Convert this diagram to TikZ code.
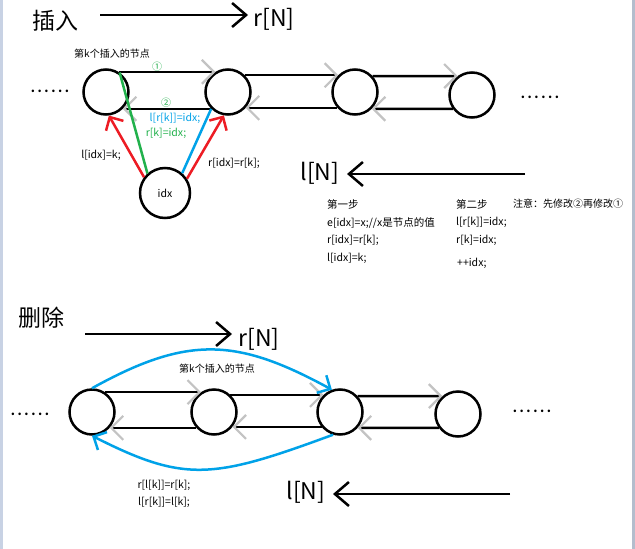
\documentclass[tikz,border=0pt]{standalone}
\usepackage{fontspec}
\setmainfont{Noto Sans CJK SC}
\usetikzlibrary{arrows.meta,calc}
\definecolor{pblue}{RGB}{0,162,232}
\definecolor{pgreen}{RGB}{34,177,76}
\definecolor{pgrey}{RGB}{195,195,195}
\definecolor{pred}{RGB}{237,28,36}
\definecolor{pframe}{RGB}{200,210,228}
\newcommand\sixdots{.\kern2.6pt.\kern2.6pt.\kern2.6pt.\kern2.6pt.\kern2.6pt.}
\tikzset{
  nd/.style={circle, draw, line width=2.5pt, minimum size=45pt, inner sep=0pt},
  link/.style={line width=2.5pt},
  gend/.style={link, -{Straight Barb[color=pgrey,length=12pt,width=24pt,line width=2.2pt]}},
  gstart/.style={link, {Straight Barb[color=pgrey,length=12pt,width=24pt,line width=2.2pt]}-},
  bigarrow/.style={line width=2.5pt, -{Straight Barb[length=14pt,width=24pt]}},
  redarrow/.style={line width=2.5pt, pred, -{Straight Barb[length=10pt,width=20pt]}},
  bluearrow/.style={line width=2.5pt, pblue, -{Straight Barb[length=10pt,width=20pt]}},
  big/.style={inner sep=0pt, font=\fontsize{23}{23}\selectfont},
  small/.style={inner sep=0pt, font=\fontsize{10}{10}\selectfont},
  code/.style={inner sep=0pt, font=\fontsize{10.5}{10.5}\selectfont},
  dots/.style={inner sep=0pt, anchor=base, font=\fontsize{12}{12}\selectfont\bfseries},
}
\begin{document}
\begin{tikzpicture}[x=1pt,y=-1pt]
\useasboundingbox (0,0) rectangle (635,549);
\fill[white] (0,0) rectangle (635,549);
\fill[pframe] (0,0) rectangle (3,549);
\fill[pframe!90!black] (632,0) rectangle (635,549);

% ---------- insertion ----------
\node[big] (tins) at (55,21) {插入};
\coordinate (ra0) at (100,15);
\coordinate (ra1) at (248,15);
\draw[bigarrow] (ra0) -- (ra1);
\node[big] (rN1) at (274,19) {r[N]};

\node[small] (lab1) at (112,54) {第k个插入的节点};
\node[dots] (dl1) at (50,92) {\sixdots};
\node[dots] (dr1) at (540,98) {\sixdots};

\node[nd] (c1) at (106,92) {};
\node[nd] (c2) at (228,92) {};
\node[nd] (c3) at (355,92) {};
\node[nd] (c4) at (472,95) {};
\node[nd, minimum size=50pt] (idx) at (165,193) {\fontsize{10.5}{10.5}\selectfont idx};

\draw[gend] (c1.58) -- (c2.122);
\draw[gstart] (c1.-45) -- (c2.-135);
\draw[gend] (c2.45) -- (c3.135);
\draw[gstart] (c2.-42) -- (c3.-138);
\draw[gend] (c3.42) -- (c4.127);
\draw[gstart] (c3.-45) -- (c4.-144);

\draw[link, pgreen] (c1.55) -- (idx.132);
\draw[link, pblue] (c2.-135) -- (idx.49);
\draw[redarrow] (idx.143) -- (c1.-83);
\draw[redarrow] (idx.33) -- (c2.-100);

\node[small, text=pgreen] (n1) at (157,67) {①};
\node[small, text=pgreen] (n2) at (166,103) {②};
\node[code, text=pblue] (s1) at (175,118) {l[r[k]]=idx;};
\node[code, text=pgreen] (s2) at (166,133) {r[k]=idx;};
\node[code] (s3) at (101,155) {l[idx]=k;};
\node[code] (s4) at (234,163) {r[idx]=r[k];};

\node[big] (lN1) at (320,173) {l[N]};
\coordinate (la0) at (525,174);
\coordinate (la1) at (347,174);
\draw[bigarrow] (la0) -- (la1);

\node[code, anchor=west] (t1) at (327,204) {第一步};
\node[code, anchor=west] (t2) at (327,223) {e[idx]=x;//x是节点的值};
\node[code, anchor=west] (t3) at (327,240) {r[idx]=r[k];};
\node[code, anchor=west] (t4) at (327,258) {l[idx]=k;};
\node[code, anchor=west] (u1) at (456,204) {第二步};
\node[code, anchor=west] (u2) at (456,222) {l[r[k]]=idx;};
\node[code, anchor=west] (u3) at (456,240) {r[k]=idx;};
\node[code, anchor=west] (u4) at (457,263) {++idx;};
\node[small, anchor=west] (note) at (513,204) {注意：先修改②再修改①};

% ---------- deletion ----------
\node[big] (tdel) at (41,318) {删除};
\coordinate (rb0) at (85,334);
\coordinate (rb1) at (232,334);
\draw[bigarrow] (rb0) -- (rb1);
\node[big] (rN2) at (259,339) {r[N]};

\node[small] (lab2) at (217,369) {第k个插入的节点};
\node[dots] (dl2) at (30,415) {\sixdots};
\node[dots] (dr2) at (532,412) {\sixdots};

\node[nd] (d1) at (92,412) {};
\node[nd] (d2) at (214,412) {};
\node[nd] (d3) at (340,412) {};
\node[nd] (d4) at (458,414) {};

\draw[gend] (d1.57) -- (d2.123);
\draw[gstart] (d1.-42) -- (d2.-138);
\draw[gend] (d2.46) -- (d3.134);
\draw[gstart] (d2.-39) -- (d3.-141);
\draw[gend] (d3.42) -- (d4.131);
\draw[gstart] (d3.-42) -- (d4.-144);

\draw[bluearrow] (d1.90) .. controls (188,335) and (237,338) .. (d3.110);
\draw[bluearrow] (d3.-107) .. controls (213,479) and (185,483) .. (d1.-90);

\node[code] (v1) at (164,485) {r[l[k]]=r[k];};
\node[code] (v2) at (164,502) {l[r[k]]=l[k];};

\node[big] (lN2) at (306,492) {l[N]};
\coordinate (lb0) at (510,494);
\coordinate (lb1) at (333,494);
\draw[bigarrow] (lb0) -- (lb1);
\end{tikzpicture}
\end{document}
